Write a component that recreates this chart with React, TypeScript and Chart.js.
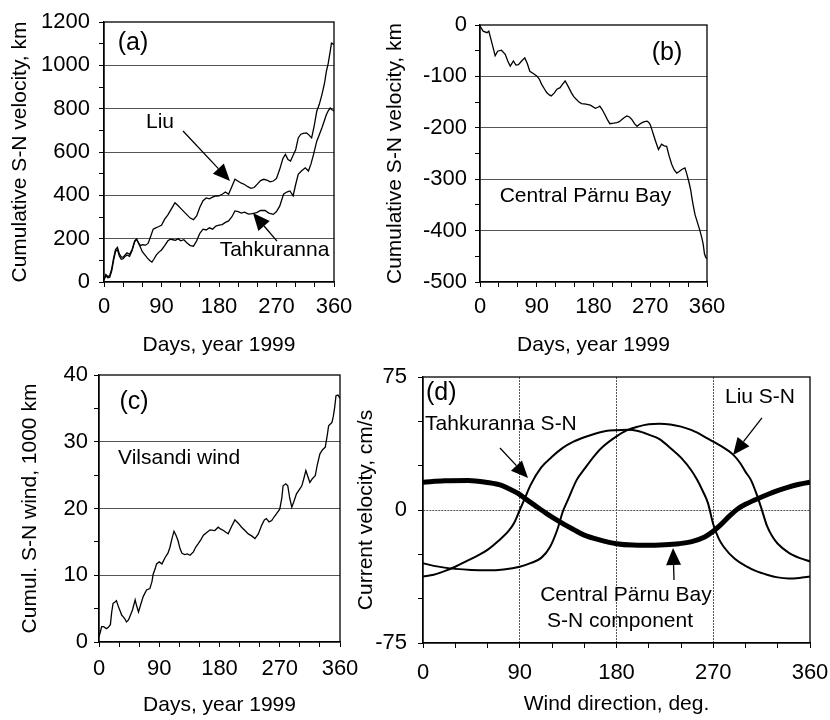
import React, { useEffect, useRef } from 'react';
import { Chart, registerables } from 'chart.js';

Chart.register(...registerables);

const W = 830;
const H = 720;
const FONT = '"Liberation Sans", Arial, Helvetica, sans-serif';
const GRID = '#555';

// ---------- Panel (a): cumulative S-N velocity, km ----------
const liuDays = [0,3,6,9,12,15,18,21,24,27,30,33,36,40,44,48,51,54,57,60,65,69,73,77,81,85,90,95,100,105,108,111,115,120,125,130,135,140,145,150,155,160,165,170,175,180,185,190,195,200,205,210,215,220,225,230,235,240,245,250,255,260,265,270,275,280,284,288,292,296,300,304,308,312,317,321,325,329,333,337,341,345,348,351,354,356,358,360];
const liuKm = [10,35,25,30,60,110,150,160,130,115,115,125,135,128,150,190,198,180,168,172,170,178,210,244,250,255,262,290,310,335,350,366,355,340,325,310,295,288,305,345,375,388,384,392,397,398,405,415,405,440,474,465,456,450,440,432,436,452,468,474,470,462,466,478,520,570,589,565,558,585,610,665,682,686,688,678,665,720,788,820,864,915,971,1010,1063,1102,1100,1095];

const tahkDays = [0,3,6,9,12,15,18,21,24,27,30,33,36,40,44,48,51,54,57,60,64,68,72,75,78,82,86,90,95,100,104,108,112,116,120,125,130,135,140,145,150,155,160,165,170,175,180,185,190,195,200,205,210,215,220,226,232,239,245,252,258,265,270,275,281,286,291,296,300,304,309,315,320,324,328,333,337,341,345,348,351,354,357,360];
const tahkKm = [10,30,20,22,50,100,140,150,120,105,108,118,125,118,145,185,198,180,160,140,125,110,98,92,105,125,138,148,168,190,198,195,192,200,190,195,180,168,165,190,225,244,240,250,244,258,262,265,275,282,300,328,325,318,322,313,316,320,330,330,318,312,325,350,405,415,420,398,450,497,512,527,512,545,589,650,680,711,745,772,790,803,795,790];

// ---------- Panel (b): Central Pärnu Bay ----------
const parnuDays = [0,5,11,14,18,22,24,28,34,40,44,48,53,57,61,66,71,75,79,85,90,94,98,102,106,110,113,118,122,127,131,135,140,145,149,153,157,161,168,175,183,187,190,194,198,202,206,212,217,221,225,229,233,237,241,245,249,253,257,261,265,268,270,273,275,279,283,286,288,292,296,300,304,308,312,316,320,325,328,331,334,336,338,341,345,349,352,354,356,358,360];
const parnuKm = [-2,-12,-15,-12,-31,-50,-60,-51,-49,-57,-70,-80,-70,-78,-77,-70,-64,-75,-90,-95,-99,-105,-116,-124,-132,-136,-138,-132,-125,-122,-115,-109,-120,-132,-140,-145,-150,-153,-154,-156,-162,-160,-158,-165,-174,-184,-192,-191,-190,-188,-184,-180,-177,-179,-184,-192,-197,-193,-190,-188,-187,-190,-194,-205,-213,-228,-242,-236,-232,-235,-236,-255,-271,-282,-288,-285,-281,-278,-290,-304,-320,-336,-350,-369,-385,-401,-415,-427,-445,-452,-455];

// ---------- Panel (c): Vilsandi wind, 1000 km ----------
const windDays = [0,2,4,7,11,14,17,19,21,24,26,29,31,34,36,39,41,44,46,50,54,56,59,62,66,71,76,79,81,84,86,90,94,99,103,106,109,112,115,118,121,124,128,132,136,141,145,148,152,156,161,166,173,178,182,186,190,193,198,203,208,213,218,223,228,233,238,243,247,250,254,258,262,265,270,273,275,279,282,285,288,291,295,299,303,306,309,312,315,319,323,326,330,334,338,341,343,346,348,350,352,354,357,360];
const windKkm = [0.8,1.5,2.3,2.3,2.0,2.2,2.6,4.5,5.8,6.0,6.2,5.3,4.8,4.0,3.8,3.4,3.0,3.3,3.8,4.8,6.3,5.5,4.5,5.5,6.8,7.8,8.0,9.0,10.2,11.0,11.7,12.0,11.7,12.7,13.3,14.2,15.5,16.6,16.0,15.2,14.0,13.3,13.1,13.2,13.0,13.5,14.3,14.7,15.3,16.0,16.4,16.8,16.7,17.2,16.9,16.7,16.4,16.2,17.3,18.3,17.8,17.2,16.7,16.2,15.9,15.5,16.2,17.5,18.3,18.5,18.0,18.2,18.8,19.2,19.9,21.5,23.4,23.7,23.4,21.5,20.2,21.0,22.2,22.8,23.4,24.5,25.7,24.8,23.9,24.5,24.9,26.5,28.2,28.8,29.2,31.0,32.4,32.7,32.9,33.8,35.1,36.9,37.0,36.5];

// ---------- Panel (d): current velocity vs wind direction ----------
const dirTahkDeg = [0,10,20,30,40,50,60,70,80,85,90,95,100,110,120,130,140,150,160,170,180,190,200,210,220,230,240,250,255,260,265,270,275,280,290,300,310,320,330,340,350,360];
const dirTahkVel = [-37.5,-36.5,-34.5,-32,-29,-26,-22.5,-17.5,-11.5,-7,0,7,14,24,30,35,38.5,41,43,44.5,45,45.2,44.5,42.5,40,35,29.5,22,17,11,4,-8,-16,-21,-27.5,-31.5,-34.5,-36.5,-38,-38.6,-38.3,-37.5];

const dirLiuDeg = [0,10,20,30,45,60,75,90,100,110,118,125,130,135,143,150,160,167,180,190,200,210,220,230,240,250,260,270,280,288,295,300,305,310,315,320,325,330,340,350,360];
const dirLiuVel = [-30,-31.5,-32.5,-33.2,-33.8,-34,-33.5,-32,-30,-27,-21,-11,-1,6,17,23,31,35.5,41.5,45,47,48.3,48.6,48.2,47,45,42,38.5,35,31.5,26.5,21.5,17,9.5,0.5,-9,-15,-19,-24,-27,-29];

const dirParnuDeg = [0,20,42,60,73,80,88,96,104,115,125,140,150,165,180,195,207,225,238,250,262,270,278,285,293,300,315,328,340,350,360];
const dirParnuVel = [15.7,16.5,16.7,15.5,13.9,12,9.5,6,2.6,-2,-5.8,-11,-14.2,-17,-19,-19.8,-19.9,-19.6,-19,-17.8,-15.2,-12,-7.7,-3.5,0.7,3.2,7.3,10.5,12.9,14.5,15.7];

// ---------- axis tick settings ----------
const dayTicks = { min: 0, max: 360, step: 30, labelEvery: 90 };
const yTicksA = { min: 0, max: 1200, step: 100, labelEvery: 200, gridAt: [200, 400, 600, 800, 1000] };
const yTicksB = { min: -500, max: 0, step: 50, labelEvery: 100, gridAt: [-100, -200, -300, -400] };
const yTicksC = { min: 0, max: 40, step: 5, labelEvery: 10, gridAt: [10, 20, 30] };
const yTicksD = { min: -75, max: 75, step: 25, labelEvery: 75, gridAt: [0] };
const xGridD = [90, 180, 270];

type Ann =
  | { kind: 'text'; x: number; y: number; text: string; size: number; align: CanvasTextAlign }
  | { kind: 'arrow'; x1: number; y1: number; x2: number; y2: number };

interface Spec {
  area: { left: number; top: number; right: number; bottom: number };
  yAxisWidth: number;
  xAxisHeight: number;
  yTitlePad: number;
  xTickPad: number;
  yTickPad: number;
  gridDash: number[];
  x: { min: number; max: number; step: number; labelEvery: number; gridAt: number[] };
  y: { min: number; max: number; step: number; labelEvery: number; gridAt: number[] };
  xTitle: string;
  yTitle: string;
  datasets: any[];
  anns: Ann[];
}

const pts = (xs: number[], ys: number[]) => xs.map((x, i) => ({ x, y: ys[i] }));
const isMajor = (v: number, every: number) => Math.abs(v / every - Math.round(v / every)) < 1e-6;

const thin = (xs: number[], ys: number[], w = 1.3) => ({
  data: pts(xs, ys),
  borderColor: '#000',
  borderWidth: w,
  pointRadius: 0,
  tension: 0,
  fill: false,
});
const smooth = (xs: number[], ys: number[], w: number) => ({
  data: pts(xs, ys),
  borderColor: '#000',
  borderWidth: w,
  pointRadius: 0,
  cubicInterpolationMode: 'monotone',
  fill: false,
});

const specs: Spec[] = [
  {
    area: { left: 104, top: 22, right: 334, bottom: 282 },
    yAxisWidth: 104, xAxisHeight: 76, yTitlePad: 7.4, xTickPad: 7, yTickPad: 9, gridDash: [],
    x: { ...dayTicks, gridAt: [] }, y: yTicksA,
    xTitle: 'Days, year 1999', yTitle: 'Cumulative S-N velocity, km',
    datasets: [thin(liuDays, liuKm), thin(tahkDays, tahkKm)],
    anns: [
      { kind: 'text', x: 45.4, y: 1103, text: '(a)', size: 25, align: 'center' },
      { kind: 'text', x: 87.7, y: 738, text: 'Liu', size: 21, align: 'center' },
      { kind: 'arrow', x1: 123.7, y1: 697, x2: 197.2, y2: 466 },
      { kind: 'text', x: 266.9, y: 148, text: 'Tahkuranna', size: 21, align: 'center' },
      { kind: 'arrow', x1: 270.8, y1: 189, x2: 233.2, y2: 318 },
    ],
  },
  {
    area: { left: 480, top: 25, right: 707, bottom: 282 },
    yAxisWidth: 100, xAxisHeight: 76, yTitlePad: 2.4, xTickPad: 7, yTickPad: 8, gridDash: [],
    x: { ...dayTicks, gridAt: [] }, y: yTicksB,
    xTitle: 'Days, year 1999', yTitle: 'Cumulative S-N velocity, km',
    datasets: [thin(parnuDays, parnuKm)],
    anns: [
      { kind: 'text', x: 296.6, y: -54.5, text: '(b)', size: 25, align: 'center' },
      { kind: 'text', x: 167.3, y: -332.7, text: 'Central Pärnu Bay', size: 21, align: 'center' },
    ],
  },
  {
    area: { left: 99, top: 375, right: 340, bottom: 642 },
    yAxisWidth: 99, xAxisHeight: 76, yTitlePad: 17.4, xTickPad: 9, yTickPad: 6, gridDash: [],
    x: { ...dayTicks, gridAt: [] }, y: yTicksC,
    xTitle: 'Days, year 1999', yTitle: 'Cumul. S-N wind, 1000 km',
    datasets: [thin(windDays, windKkm)],
    anns: [
      { kind: 'text', x: 52.3, y: 36.0, text: '(c)', size: 25, align: 'center' },
      { kind: 'text', x: 28.4, y: 27.6, text: 'Vilsandi wind', size: 21, align: 'left' },
    ],
  },
  {
    area: { left: 423, top: 377, right: 810, bottom: 643 },
    yAxisWidth: 73, xAxisHeight: 74, yTitlePad: 3.4, xTickPad: 12, yTickPad: 11, gridDash: [2, 1],
    x: { ...dayTicks, gridAt: xGridD }, y: yTicksD,
    xTitle: 'Wind direction, deg.', yTitle: 'Current velocity, cm/s',
    datasets: [
      smooth(dirTahkDeg, dirTahkVel, 2),
      smooth(dirLiuDeg, dirLiuVel, 2),
      smooth(dirParnuDeg, dirParnuVel, 5),
    ],
    anns: [
      { kind: 'text', x: 2.8, y: 66, text: '(d)', size: 25, align: 'left' },
      { kind: 'text', x: 1.9, y: 48.5, text: 'Tahkuranna S-N', size: 21, align: 'left' },
      { kind: 'arrow', x1: 71.6, y1: 35, x2: 97.7, y2: 18 },
      { kind: 'text', x: 313.5, y: 63.7, text: 'Liu S-N', size: 21, align: 'center' },
      { kind: 'arrow', x1: 315.3, y1: 51.9, x2: 288.4, y2: 31 },
      { kind: 'text', x: 188.8, y: -47.9, text: 'Central Pärnu Bay', size: 21, align: 'center' },
      { kind: 'text', x: 183.3, y: -62.6, text: 'S-N component', size: 21, align: 'center' },
      { kind: 'arrow', x1: 233.5, y1: -39.5, x2: 232.6, y2: -21.4 },
    ],
  },
];

function buildConfig(p: Spec): any {
  const padL = p.area.left - p.yAxisWidth;
  const overlay = {
    id: 'overlay',
    afterDraw(chart: any) {
      const { ctx, chartArea: a, scales } = chart;
      const px = (v: number) => scales.x.getPixelForValue(v);
      const py = (v: number) => scales.y.getPixelForValue(v);
      ctx.save();
      ctx.setLineDash([]);
      ctx.strokeStyle = '#000';
      ctx.lineWidth = 1.3;
      ctx.strokeRect(a.left, a.top, a.right - a.left, a.bottom - a.top);
      ctx.fillStyle = '#000';
      for (const an of p.anns) {
        if (an.kind === 'text') {
          ctx.font = `${an.size}px ${FONT}`;
          ctx.textAlign = an.align;
          ctx.textBaseline = 'middle';
          ctx.fillText(an.text, px(an.x), py(an.y));
        } else {
          const x1 = px(an.x1), y1 = py(an.y1), x2 = px(an.x2), y2 = py(an.y2);
          const ang = Math.atan2(y2 - y1, x2 - x1);
          const L = 17, hw = 7.5;
          const bx = x2 - L * Math.cos(ang), by = y2 - L * Math.sin(ang);
          ctx.lineWidth = 1.3;
          ctx.beginPath();
          ctx.moveTo(x1, y1);
          ctx.lineTo(bx, by);
          ctx.stroke();
          ctx.beginPath();
          ctx.moveTo(x2, y2);
          ctx.lineTo(bx + hw * Math.sin(ang), by - hw * Math.cos(ang));
          ctx.lineTo(bx - hw * Math.sin(ang), by + hw * Math.cos(ang));
          ctx.closePath();
          ctx.fill();
        }
      }
      ctx.restore();
    },
  };
  const tickFont = { size: 22, family: FONT };
  const titleFont = { size: 21, family: FONT };
  return {
    type: 'line',
    data: { datasets: p.datasets },
    plugins: [overlay],
    options: {
      responsive: false,
      animation: false,
      devicePixelRatio: 1,
      events: [],
      layout: {
        padding: {
          left: padL,
          top: p.area.top,
          right: W - p.area.right,
          bottom: H - p.area.bottom - p.xAxisHeight,
        },
      },
      plugins: { legend: { display: false }, tooltip: { enabled: false }, title: { display: false } },
      scales: {
        x: {
          type: 'linear',
          min: p.x.min,
          max: p.x.max,
          afterFit: (s: any) => {
            s.height = p.xAxisHeight;
            s.paddingLeft = 0; s.paddingRight = 0; s.paddingTop = 0; s.paddingBottom = 0;
          },
          ticks: {
            stepSize: p.x.step,
            autoSkip: false,
            maxRotation: 0,
            minRotation: 0,
            padding: p.xTickPad,
            color: '#000',
            font: tickFont,
            callback: (v: number) => (isMajor(v, p.x.labelEvery) ? String(v) : ''),
          },
          grid: {
            color: (c: any) => (c.tick && p.x.gridAt.includes(c.tick.value) ? GRID : 'rgba(0,0,0,0)'),
            tickColor: '#000',
            tickLength: 5,
            lineWidth: 1,
          },
          border: { color: '#000', width: 1.3, dash: p.gridDash },
          title: { display: true, text: p.xTitle, color: '#000', font: titleFont, padding: 0 },
        },
        y: {
          type: 'linear',
          min: p.y.min,
          max: p.y.max,
          afterFit: (s: any) => {
            s.width = p.yAxisWidth;
            s.paddingLeft = 0; s.paddingRight = 0; s.paddingTop = 0; s.paddingBottom = 0;
          },
          ticks: {
            stepSize: p.y.step,
            autoSkip: false,
            padding: p.yTickPad,
            color: '#000',
            font: tickFont,
            callback: (v: number) => (isMajor(v, p.y.labelEvery) ? String(v) : ''),
          },
          grid: {
            color: (c: any) => (c.tick && p.y.gridAt.includes(c.tick.value) ? GRID : 'rgba(0,0,0,0)'),
            tickColor: '#000',
            tickLength: 5,
            lineWidth: 1,
          },
          border: { color: '#000', width: 1.3, dash: p.gridDash },
          title: {
            display: true,
            text: p.yTitle,
            color: '#000',
            font: titleFont,
            padding: { top: p.yTitlePad, bottom: 0 },
          },
        },
      },
    },
  };
}

function Panel({ spec }: { spec: Spec }) {
  const ref = useRef<HTMLCanvasElement>(null);
  useEffect(() => {
    const chart = new Chart(ref.current as HTMLCanvasElement, buildConfig(spec));
    return () => chart.destroy();
  }, [spec]);
  return (
    <canvas
      ref={ref}
      width={W}
      height={H}
      style={{ position: 'absolute', left: 0, top: 0, width: W, height: H }}
    />
  );
}

export default function App() {
  return (
    <div style={{ position: 'absolute', left: 0, top: 0, width: W, height: H, background: '#fff' }}>
      {specs.map((s, i) => (
        <Panel key={i} spec={s} />
      ))}
    </div>
  );
}
